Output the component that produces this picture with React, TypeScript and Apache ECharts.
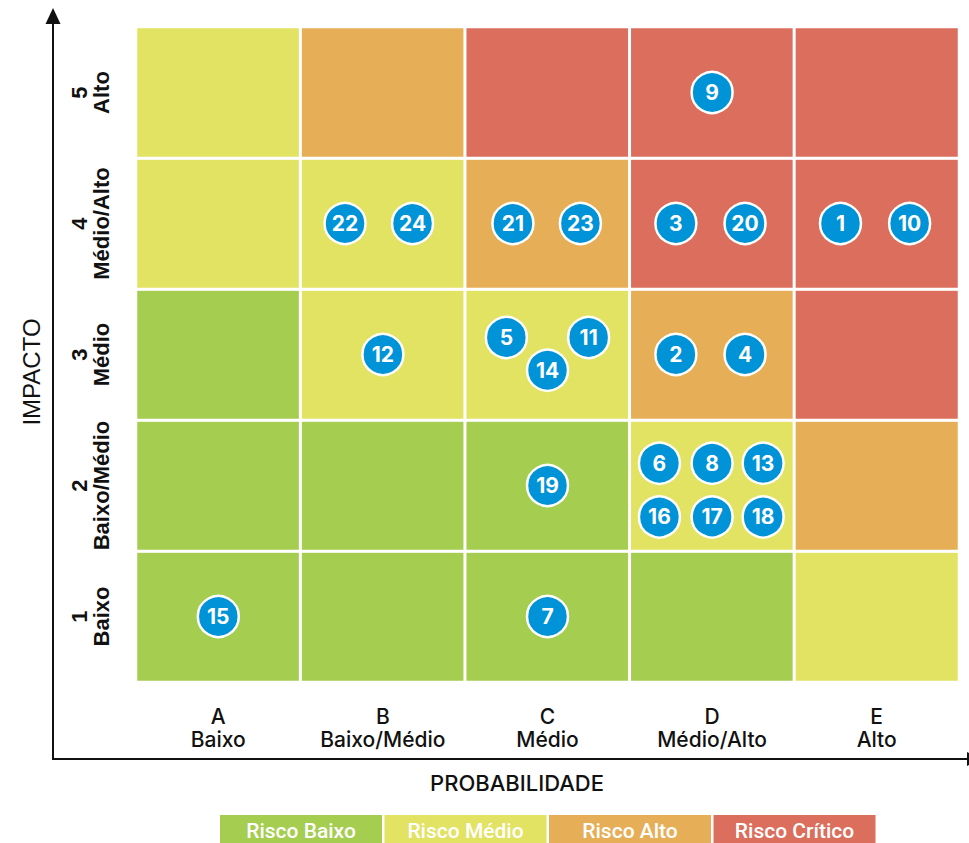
import React, { useEffect, useRef } from "react";
import * as echarts from "echarts";

const probabilityLabels = ["A\nBaixo", "B\nBaixo/Médio", "C\nMédio", "D\nMédio/Alto", "E\nAlto"];
const impactLabels = ["1\nBaixo", "2\nBaixo/Médio", "3\nMédio", "4\nMédio/Alto", "5\nAlto"];
const riskLevelNames = ["Risco Baixo", "Risco Médio", "Risco Alto", "Risco Crítico"];
const riskLevelColors = ["#a5cd50", "#e2e263", "#e6ae57", "#db6e5c"];

// risk level per cell, rows from impact 1 (bottom) to 5 (top), columns A..E
const levelRow1 = [0, 0, 0, 0, 1];
const levelRow2 = [0, 0, 0, 1, 2];
const levelRow3 = [0, 1, 1, 2, 3];
const levelRow4 = [1, 1, 2, 3, 3];
const levelRow5 = [1, 2, 3, 3, 3];
const levelRows = [levelRow1, levelRow2, levelRow3, levelRow4, levelRow5];

// numbered risks with their position in the matrix (x: probability, y: impact)
const riskIds = [1, 2, 3, 4, 5, 6, 7, 8, 9, 10, 11, 12, 13, 14, 15, 16, 17, 18, 19, 20, 21, 22, 23, 24];
const riskX = [4.28, 3.28, 3.28, 3.7, 2.25, 3.18, 2.5, 3.5, 3.5, 4.7, 2.75, 1.5, 3.81, 2.5, 0.5, 3.18, 3.5, 3.81, 2.5, 3.7, 2.29, 1.27, 2.7, 1.68];
const riskY = [3.5, 2.5, 3.5, 2.5, 2.63, 1.67, 0.5, 1.67, 4.5, 3.5, 2.63, 2.5, 1.67, 2.38, 0.5, 1.26, 1.26, 1.26, 1.5, 3.5, 3.5, 3.5, 3.5, 3.5];

export default function App() {
  const ref = useRef<HTMLDivElement>(null);

  useEffect(() => {
    document.body.style.margin = "0";
    const chart = echarts.init(ref.current!, null, { renderer: "svg" });

    const heatData: any[] = [];
    levelRows.forEach((row, yi) => {
      row.forEach((lvl, xi) => {
        heatData.push([xi, yi, lvl]);
      });
    });
    const pointData = riskIds.map((id, i) => [riskX[i], riskY[i], id]);

    const grid = { left: 136, top: 27, width: 823, height: 655 };

    const legendGraphics: any[] = [];
    riskLevelNames.forEach((name, i) => {
      const x0 = 220 + i * 164.5;
      legendGraphics.push({
        type: "rect",
        shape: { x: x0, y: 815, width: 162, height: 30 },
        style: { fill: riskLevelColors[i] },
        silent: true,
      });
      legendGraphics.push({
        type: "text",
        x: x0 + 81,
        y: 831,
        style: {
          text: name,
          fill: "#ffffff",
          fontFamily: "Roboto",
          fontWeight: 500,
          fontSize: 21,
          align: "center",
          verticalAlign: "middle",
        },
        silent: true,
      });
    });

    chart.setOption({
      animation: false,
      grid: [grid, grid],
      xAxis: [
        {
          type: "category",
          gridIndex: 0,
          data: probabilityLabels,
          axisLine: { show: false },
          axisTick: { show: false },
          splitLine: { show: false },
          axisLabel: {
            interval: 0,
            margin: 23,
            fontFamily: "Inter",
            fontWeight: 500,
            fontSize: 21,
            lineHeight: 23,
            color: "#111",
          },
        },
        { type: "value", gridIndex: 1, min: 0, max: 5, show: false },
      ],
      yAxis: [
        {
          type: "category",
          gridIndex: 0,
          data: impactLabels,
          axisLine: { show: false },
          axisTick: { show: false },
          splitLine: { show: false },
          axisLabel: {
            interval: 0,
            rotate: 90,
            margin: 24,
            fontFamily: "Liberation Sans",
            fontWeight: "bold",
            fontSize: 22,
            lineHeight: 22,
            color: "#111",
            align: "center",
          },
        },
        { type: "value", gridIndex: 1, min: 0, max: 5, show: false },
      ],
      visualMap: {
        show: false,
        type: "piecewise",
        seriesIndex: 0,
        dimension: 2,
        pieces: riskLevelColors.map((c, i) => ({ value: i, color: c })),
      },
      series: [
        {
          type: "heatmap",
          xAxisIndex: 0,
          yAxisIndex: 0,
          data: heatData,
          itemStyle: { borderColor: "#ffffff", borderWidth: 3 },
          emphasis: { disabled: true },
          silent: true,
        },
        {
          type: "scatter",
          xAxisIndex: 1,
          yAxisIndex: 1,
          data: pointData,
          symbol: "circle",
          symbolSize: 41,
          itemStyle: { color: "#0093d7", borderColor: "#ffffff", borderWidth: 2.5, opacity: 1 },
          label: {
            show: true,
            position: "inside",
            formatter: (p: any) => String(p.value[2]),
            color: "#ffffff",
            fontFamily: "Inter",
            fontWeight: "bold",
            fontSize: 21,
          },
          emphasis: { disabled: true },
          silent: true,
          z: 5,
        },
      ],
      graphic: [
        // y axis arrow
        { type: "line", shape: { x1: 53, y1: 760, x2: 53, y2: 20 }, style: { stroke: "#111", lineWidth: 2 }, silent: true },
        { type: "polygon", shape: { points: [[53, 8], [45.5, 24], [60.5, 24]] }, style: { fill: "#111" }, silent: true },
        // x axis arrow
        { type: "line", shape: { x1: 52, y1: 759, x2: 968, y2: 759 }, style: { stroke: "#111", lineWidth: 2 }, silent: true },
        { type: "polygon", shape: { points: [[982, 759], [967, 752], [967, 766]] }, style: { fill: "#111" }, silent: true },
        {
          type: "text",
          x: 31,
          y: 372,
          rotation: Math.PI / 2,
          style: {
            text: "IMPACTO",
            fill: "#111",
            fontFamily: "Liberation Sans",
            fontSize: 24,
            align: "center",
            verticalAlign: "middle",
          },
          silent: true,
        },
        {
          type: "text",
          x: 517,
          y: 783,
          style: {
            text: "PROBABILIDADE",
            fill: "#111",
            fontFamily: "Inter",
            fontWeight: 500,
            fontSize: 22,
            align: "center",
            verticalAlign: "middle",
          },
          silent: true,
        },
        ...legendGraphics,
      ],
    });

    return () => chart.dispose();
  }, []);

  return <div ref={ref} style={{ position: "absolute", left: 0, top: 0, width: 969, height: 843 }} />;
}
